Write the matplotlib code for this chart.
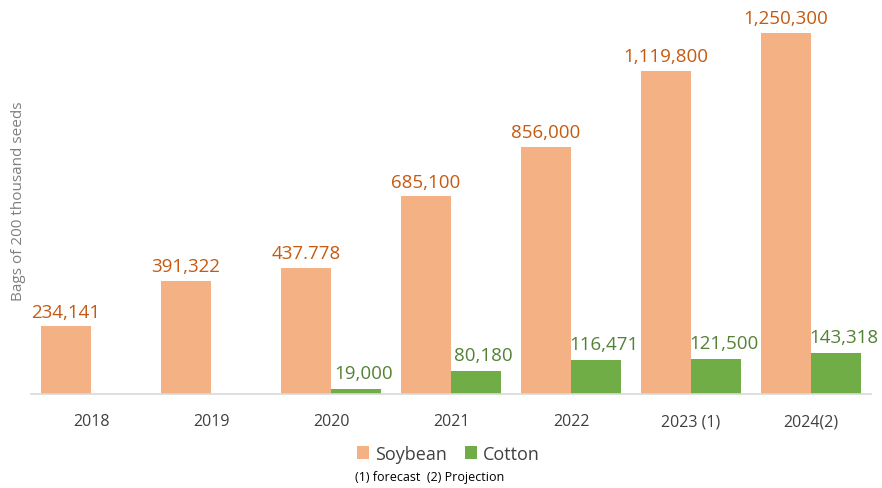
import matplotlib
matplotlib.use("Agg")
import matplotlib.pyplot as plt
import numpy as np

categories = ["2018", "2019", "2020", "2021", "2022", "2023 (1)", "2024(2)"]
soybean = [234141, 391322, 437778, 685100, 856000, 1119800, 1250300]
soybean_labels = ["234,141", "391,322", "437.778", "685,100", "856,000", "1,119,800", "1,250,300"]
cotton = [0, 0, 19000, 80180, 116471, 121500, 143318]
cotton_labels = ["", "", "19,000", "80,180", "116,471", "121,500", "143,318"]

plt.rcParams['font.family'] = ['Open Sans', 'DejaVu Sans']

fig = plt.figure(figsize=(8.82, 4.89), dpi=100)
ax = fig.add_axes([31/882, 94/489, 840/882, 390/489])

x = np.arange(len(categories))
w = 50/120
b1 = ax.bar(x - w/2, soybean, w, color="#F4B183", label="Soybean")
b2 = ax.bar(x + w/2, cotton, w, color="#70AD47", label="Cotton")

ax.bar_label(b1, labels=soybean_labels, padding=4, color="#C55A11", fontsize=13.5)
for rect, lab in zip(b2, cotton_labels):
    if not lab:
        continue
    ax.annotate(lab, (rect.get_x() + rect.get_width() / 2, rect.get_height()),
                xytext=(5.5, 5), textcoords="offset points", ha="center", va="bottom",
                color="#548235", fontsize=13.5)

ax.set_xlim(-0.5, len(categories) - 0.5)
ax.set_ylim(0, 1250300 * 390 / 361)
ax.set_xticks(x)
ax.set_xticklabels(categories, fontsize=11.5, color="#404040")
ax.tick_params(axis="x", length=0, pad=14)
ax.set_yticks([])
for s in ["top", "right", "left"]:
    ax.spines[s].set_visible(False)
ax.spines["bottom"].set_color("#D9D9D9")
ax.spines["bottom"].set_linewidth(1.2)

fig.text(19/882, 1 - 201/489, "Bags of 200 thousand seeds", rotation=90,
         ha="center", va="center", fontsize=11, color="#7F7F7F")

fig.legend(handles=[b1, b2], loc="center", bbox_to_anchor=(448/882, 1 - 455/489),
           ncol=2, frameon=False, fontsize=13, handlelength=0.7, handleheight=0.7,
           handletextpad=0.3, columnspacing=1.0, labelcolor="#404040")

fig.text(430/882, 1 - 478/489, "(1) forecast  (2) Projection", ha="center", va="center",
         fontsize=9, color="#000000")

fig.savefig("out.png", dpi=100)
